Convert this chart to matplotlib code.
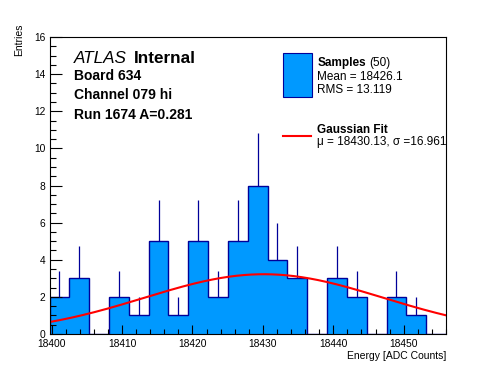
import numpy as np
import matplotlib
matplotlib.use("Agg")
import matplotlib.pyplot as plt
from matplotlib.ticker import MultipleLocator

plt.rcParams['font.family'] = ['Liberation Sans', 'DejaVu Sans']

# histogram data (20 bins)
x_lo, x_hi = 18399.7, 18456.0
counts = np.array([2, 3, 0, 2, 1, 5, 1, 5, 2, 5, 8, 4, 3, 0, 3, 2, 0, 2, 1, 0])
n_samples = 50
mean_val = "18426.1"
rms_val = "13.119"

# gaussian fit parameters
fit_amp = 3.22
fit_mu = 18430.13
fit_sigma = 16.961

fill_col = "#0099ff"
edge_col = "#000099"

W, H = 496, 372
fig = plt.figure(figsize=(W / 100, H / 100), dpi=100)
ax = fig.add_axes([49.5 / W, (H - 334) / H, (446 - 49.5) / W, (334 - 37) / H])

edges = np.linspace(x_lo, x_hi, len(counts) + 1)
centers = 0.5 * (edges[:-1] + edges[1:])

ax.stairs(counts, edges, fill=True, color=fill_col, lw=0)
ax.stairs(counts, edges, baseline=0, color=edge_col, lw=1.0)
nz = counts > 0
ax.vlines(centers[nz], counts[nz], counts[nz] + np.sqrt(counts[nz]),
          color=edge_col, lw=0.9)

xx = np.linspace(x_lo, x_hi, 400)
ax.plot(xx, fit_amp * np.exp(-0.5 * ((xx - fit_mu) / fit_sigma) ** 2),
        color="red", lw=1.5, zorder=5)

ax.set_xlim(x_lo, x_hi)
ax.set_ylim(0, 16)
ax.xaxis.set_major_locator(MultipleLocator(10))
ax.xaxis.set_minor_locator(MultipleLocator(2))
ax.yaxis.set_major_locator(MultipleLocator(2))
ax.yaxis.set_minor_locator(MultipleLocator(0.5))
ax.tick_params(which="both", direction="in", top=False, right=False,
               labelsize=7.4, width=0.8)
ax.tick_params(axis="y", which="major", length=8.5, pad=3)
ax.tick_params(axis="y", which="minor", length=4)
ax.tick_params(axis="x", which="major", length=6.5, pad=3.5)
ax.tick_params(axis="x", which="minor", length=3.5)
for s in ax.spines.values():
    s.set_linewidth(0.8)
    s.set_zorder(6)


def P(x, y):
    return x / W, (H - y) / H


fig.text(*P(446, 351), "Energy [ADC Counts]", ha="right", va="top", fontsize=7.5)
fig.text(*P(19, 24), "Entries", rotation=90, ha="center", va="top", fontsize=7.5)

fig.text(*P(74, 62.7), "ATLAS", fontsize=12.3, style="italic", va="baseline")
fig.text(*P(134, 62.7), "Internal", fontsize=12.3, weight="bold", va="baseline")
fig.text(*P(74, 80), "Board 634", fontsize=10, weight="bold", va="baseline")
fig.text(*P(74, 99.3), "Channel 079 hi", fontsize=10, weight="bold", va="baseline")
fig.text(*P(74, 119), "Run 1674 A=0.281", fontsize=10, weight="bold", va="baseline")

# legend
box = plt.Rectangle(P(283.3, 96.7), 28.4 / W, 43.4 / H, transform=fig.transFigure,
                    facecolor=fill_col, edgecolor=edge_col, lw=0.8)
fig.add_artist(box)
fig.text(*P(317.3, 66), "Samples", fontsize=8.5, weight="bold", va="baseline")
fig.text(*P(369, 66), "(%d)" % n_samples, fontsize=8.5, va="baseline")
fig.text(*P(317.3, 80), "Mean = " + mean_val, fontsize=8.5, va="baseline")
fig.text(*P(317.3, 93.3), "RMS = " + rms_val, fontsize=8.5, va="baseline")
fig.add_artist(plt.Line2D([283 / W, 311 / W], [(H - 136) / H] * 2,
                          transform=fig.transFigure, color="red", lw=1.5))
fig.text(*P(317.3, 133.3), "Gaussian Fit", fontsize=8.5, weight="bold", va="baseline")
fig.text(*P(317.3, 145), "\u03bc = %.2f, \u03c3 =%.3f" % (fit_mu, fit_sigma),
         fontsize=8.5, va="baseline")

fig.savefig("out.png", dpi=100)
